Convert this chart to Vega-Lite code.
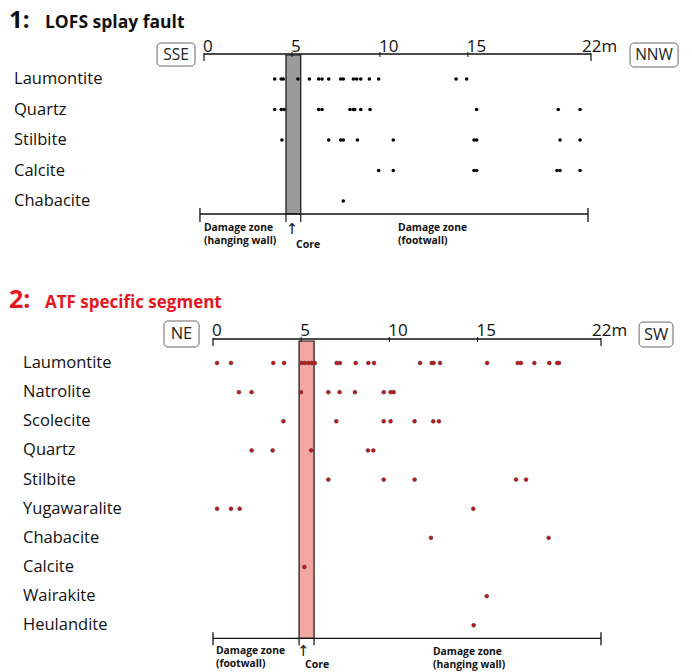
{
  "$schema": "https://vega.github.io/schema/vega-lite/v6.json",
  "width": 692,
  "height": 672,
  "autosize": "none",
  "padding": 0,
  "background": "white",
  "config": {"view": {"stroke": null}, "axis": {"disable": true}, "font": "Open Sans", "text": {"font": "Open Sans"}},
  "datasets": {
    "lofs": [
      {"mineral": "Laumontite", "m": 4.02}, {"mineral": "Laumontite", "m": 4.39}, {"mineral": "Laumontite", "m": 4.51}, {"mineral": "Laumontite", "m": 5.34},
      {"mineral": "Laumontite", "m": 5.99}, {"mineral": "Laumontite", "m": 6.52}, {"mineral": "Laumontite", "m": 6.71}, {"mineral": "Laumontite", "m": 7.09},
      {"mineral": "Laumontite", "m": 7.77}, {"mineral": "Laumontite", "m": 7.92}, {"mineral": "Laumontite", "m": 8.49}, {"mineral": "Laumontite", "m": 8.68},
      {"mineral": "Laumontite", "m": 8.91}, {"mineral": "Laumontite", "m": 9.40}, {"mineral": "Laumontite", "m": 9.93}, {"mineral": "Laumontite", "m": 14.33},
      {"mineral": "Laumontite", "m": 14.93},
      {"mineral": "Quartz", "m": 4.02}, {"mineral": "Quartz", "m": 4.39}, {"mineral": "Quartz", "m": 4.55}, {"mineral": "Quartz", "m": 6.52},
      {"mineral": "Quartz", "m": 6.71}, {"mineral": "Quartz", "m": 8.30}, {"mineral": "Quartz", "m": 8.49}, {"mineral": "Quartz", "m": 8.57},
      {"mineral": "Quartz", "m": 8.91}, {"mineral": "Quartz", "m": 9.44}, {"mineral": "Quartz", "m": 15.50}, {"mineral": "Quartz", "m": 20.14},
      {"mineral": "Quartz", "m": 21.38},
      {"mineral": "Stilbite", "m": 4.43}, {"mineral": "Stilbite", "m": 7.09}, {"mineral": "Stilbite", "m": 7.77}, {"mineral": "Stilbite", "m": 7.92},
      {"mineral": "Stilbite", "m": 8.72}, {"mineral": "Stilbite", "m": 10.76}, {"mineral": "Stilbite", "m": 15.35}, {"mineral": "Stilbite", "m": 15.50},
      {"mineral": "Stilbite", "m": 20.24}, {"mineral": "Stilbite", "m": 21.38},
      {"mineral": "Calcite", "m": 9.93}, {"mineral": "Calcite", "m": 10.76}, {"mineral": "Calcite", "m": 15.35}, {"mineral": "Calcite", "m": 15.50},
      {"mineral": "Calcite", "m": 20.07}, {"mineral": "Calcite", "m": 20.24}, {"mineral": "Calcite", "m": 21.38},
      {"mineral": "Chabacite", "m": 7.92}
    ],
    "atf": [
      {"mineral": "Laumontite", "m": 0.23}, {"mineral": "Laumontite", "m": 1.02}, {"mineral": "Laumontite", "m": 3.42}, {"mineral": "Laumontite", "m": 4.03},
      {"mineral": "Laumontite", "m": 5.01}, {"mineral": "Laumontite", "m": 5.20}, {"mineral": "Laumontite", "m": 5.41}, {"mineral": "Laumontite", "m": 5.60},
      {"mineral": "Laumontite", "m": 5.78}, {"mineral": "Laumontite", "m": 7.01}, {"mineral": "Laumontite", "m": 7.20}, {"mineral": "Laumontite", "m": 8.09},
      {"mineral": "Laumontite", "m": 8.81}, {"mineral": "Laumontite", "m": 9.13}, {"mineral": "Laumontite", "m": 11.74}, {"mineral": "Laumontite", "m": 12.40},
      {"mineral": "Laumontite", "m": 12.51}, {"mineral": "Laumontite", "m": 12.87}, {"mineral": "Laumontite", "m": 15.54}, {"mineral": "Laumontite", "m": 17.28},
      {"mineral": "Laumontite", "m": 17.46}, {"mineral": "Laumontite", "m": 18.22}, {"mineral": "Laumontite", "m": 19.07}, {"mineral": "Laumontite", "m": 19.52},
      {"mineral": "Laumontite", "m": 19.62},
      {"mineral": "Natrolite", "m": 1.47}, {"mineral": "Natrolite", "m": 2.19}, {"mineral": "Natrolite", "m": 4.99}, {"mineral": "Natrolite", "m": 6.54},
      {"mineral": "Natrolite", "m": 7.18}, {"mineral": "Natrolite", "m": 8.05}, {"mineral": "Natrolite", "m": 9.68}, {"mineral": "Natrolite", "m": 10.07},
      {"mineral": "Natrolite", "m": 10.24},
      {"mineral": "Scolecite", "m": 3.99}, {"mineral": "Scolecite", "m": 6.99}, {"mineral": "Scolecite", "m": 9.68}, {"mineral": "Scolecite", "m": 10.07},
      {"mineral": "Scolecite", "m": 11.43}, {"mineral": "Scolecite", "m": 12.49}, {"mineral": "Scolecite", "m": 12.81},
      {"mineral": "Quartz", "m": 2.19}, {"mineral": "Quartz", "m": 3.38}, {"mineral": "Quartz", "m": 5.57}, {"mineral": "Quartz", "m": 8.79},
      {"mineral": "Quartz", "m": 9.09},
      {"mineral": "Stilbite", "m": 6.54}, {"mineral": "Stilbite", "m": 9.68}, {"mineral": "Stilbite", "m": 11.43}, {"mineral": "Stilbite", "m": 17.18},
      {"mineral": "Stilbite", "m": 17.75},
      {"mineral": "Yugawaralite", "m": 0.23}, {"mineral": "Yugawaralite", "m": 1.02}, {"mineral": "Yugawaralite", "m": 1.51}, {"mineral": "Yugawaralite", "m": 14.76},
      {"mineral": "Chabacite", "m": 12.36}, {"mineral": "Chabacite", "m": 19.03},
      {"mineral": "Calcite", "m": 5.18},
      {"mineral": "Wairakite", "m": 15.52},
      {"mineral": "Heulandite", "m": 14.78}
    ],
    "ticks": [{"v": 0, "t": "0"}, {"v": 5, "t": "5"}, {"v": 10, "t": "10"}, {"v": 15, "t": "15"}],
    "midticks": [{"v": 5}, {"v": 10}, {"v": 15}],
    "endticks": [{"v": 0}, {"v": 22}],
    "one": [{}]
  },
  "layer": [
    {
      "layer": [
        {
          "data": {"name": "one"},
          "mark": {"type": "rect", "fill": "#9b9b9b", "stroke": "#111", "strokeWidth": 1.2, "yOffset": -24, "y2Offset": 13},
          "encoding": {
            "x": {"datum": 4.66, "type": "quantitative", "scale": {"domain": [0, 22], "range": [204, 591], "nice": false, "zero": false}},
            "x2": {"datum": 5.5},
            "y": {"datum": "Laumontite", "type": "nominal", "scale": {"type": "point", "domain": ["Laumontite", "Quartz", "Stilbite", "Calcite", "Chabacite"], "range": [79, 201], "padding": 0}},
            "y2": {"datum": "Chabacite"}
          }
        },
        {
          "data": {"name": "one"},
          "mark": {"type": "rule", "color": "#111", "strokeWidth": 1.3, "yOffset": -25},
          "encoding": {
            "x": {"datum": 0, "type": "quantitative", "scale": {"domain": [0, 22], "range": [204, 591], "nice": false, "zero": false}},
            "x2": {"datum": 22},
            "y": {"datum": "Laumontite", "type": "nominal", "scale": {"type": "point", "domain": ["Laumontite", "Quartz", "Stilbite", "Calcite", "Chabacite"], "range": [79, 201], "padding": 0}}
          }
        },
        {
          "data": {"name": "midticks"},
          "mark": {"type": "rule", "color": "#111", "strokeWidth": 1, "yOffset": -27, "y2Offset": -22},
          "encoding": {
            "x": {"field": "v", "type": "quantitative", "scale": {"domain": [0, 22], "range": [204, 591], "nice": false, "zero": false}},
            "y": {"datum": "Laumontite", "type": "nominal", "scale": {"type": "point", "domain": ["Laumontite", "Quartz", "Stilbite", "Calcite", "Chabacite"], "range": [79, 201], "padding": 0}},
            "y2": {"datum": "Laumontite"}
          }
        },
        {
          "data": {"name": "endticks"},
          "mark": {"type": "rule", "color": "#111", "strokeWidth": 1.2, "yOffset": -26, "y2Offset": -18},
          "encoding": {
            "x": {"field": "v", "type": "quantitative", "scale": {"domain": [0, 22], "range": [204, 591], "nice": false, "zero": false}},
            "y": {"datum": "Laumontite", "type": "nominal", "scale": {"type": "point", "domain": ["Laumontite", "Quartz", "Stilbite", "Calcite", "Chabacite"], "range": [79, 201], "padding": 0}},
            "y2": {"datum": "Laumontite"}
          }
        },
        {
          "data": {"name": "ticks"},
          "mark": {"type": "text", "align": "left", "baseline": "alphabetic", "dx": -1, "dy": -27, "fontSize": 17, "color": "#111"},
          "encoding": {
            "x": {"field": "v", "type": "quantitative", "scale": {"domain": [0, 22], "range": [204, 591], "nice": false, "zero": false}},
            "y": {"datum": "Laumontite", "type": "nominal", "scale": {"type": "point", "domain": ["Laumontite", "Quartz", "Stilbite", "Calcite", "Chabacite"], "range": [79, 201], "padding": 0}},
            "text": {"field": "t"}
          }
        },
        {
          "data": {"name": "one"},
          "mark": {"type": "text", "text": "22m", "align": "left", "baseline": "alphabetic", "dx": -9, "dy": -27, "fontSize": 17, "color": "#111"},
          "encoding": {
            "x": {"datum": 22, "type": "quantitative", "scale": {"domain": [0, 22], "range": [204, 591], "nice": false, "zero": false}},
            "y": {"datum": "Laumontite", "type": "nominal", "scale": {"type": "point", "domain": ["Laumontite", "Quartz", "Stilbite", "Calcite", "Chabacite"], "range": [79, 201], "padding": 0}}
          }
        },
        {
          "data": {"name": "one"},
          "mark": {"type": "rect", "fill": "white", "stroke": "#666", "strokeWidth": 1, "cornerRadius": 4, "yOffset": -36, "y2Offset": -13},
          "encoding": {
            "x": {"datum": -2.67, "type": "quantitative", "scale": {"domain": [0, 22], "range": [204, 591], "nice": false, "zero": false}},
            "x2": {"datum": -0.51},
            "y": {"datum": "Laumontite", "type": "nominal", "scale": {"type": "point", "domain": ["Laumontite", "Quartz", "Stilbite", "Calcite", "Chabacite"], "range": [79, 201], "padding": 0}},
            "y2": {"datum": "Laumontite"}
          }
        },
        {
          "data": {"name": "one"},
          "mark": {"type": "text", "text": "SSE", "align": "center", "baseline": "middle", "dy": -24, "fontSize": 15.5, "color": "#222"},
          "encoding": {
            "x": {"datum": -1.59, "type": "quantitative", "scale": {"domain": [0, 22], "range": [204, 591], "nice": false, "zero": false}},
            "y": {"datum": "Laumontite", "type": "nominal", "scale": {"type": "point", "domain": ["Laumontite", "Quartz", "Stilbite", "Calcite", "Chabacite"], "range": [79, 201], "padding": 0}}
          }
        },
        {
          "data": {"name": "one"},
          "mark": {"type": "rect", "fill": "white", "stroke": "#666", "strokeWidth": 1, "cornerRadius": 4, "yOffset": -36, "y2Offset": -12},
          "encoding": {
            "x": {"datum": 24.22, "type": "quantitative", "scale": {"domain": [0, 22], "range": [204, 591], "nice": false, "zero": false}},
            "x2": {"datum": 26.95},
            "y": {"datum": "Laumontite", "type": "nominal", "scale": {"type": "point", "domain": ["Laumontite", "Quartz", "Stilbite", "Calcite", "Chabacite"], "range": [79, 201], "padding": 0}},
            "y2": {"datum": "Laumontite"}
          }
        },
        {
          "data": {"name": "one"},
          "mark": {"type": "text", "text": "NNW", "align": "center", "baseline": "middle", "dy": -24, "fontSize": 15.5, "color": "#222"},
          "encoding": {
            "x": {"datum": 25.58, "type": "quantitative", "scale": {"domain": [0, 22], "range": [204, 591], "nice": false, "zero": false}},
            "y": {"datum": "Laumontite", "type": "nominal", "scale": {"type": "point", "domain": ["Laumontite", "Quartz", "Stilbite", "Calcite", "Chabacite"], "range": [79, 201], "padding": 0}}
          }
        },
        {
          "data": {"name": "one"},
          "mark": {"type": "text", "text": "1:", "align": "left", "baseline": "alphabetic", "dy": -51, "fontSize": 24, "fontWeight": "bold", "color": "#111"},
          "encoding": {
            "x": {"datum": -11.08, "type": "quantitative", "scale": {"domain": [0, 22], "range": [204, 591], "nice": false, "zero": false}},
            "y": {"datum": "Laumontite", "type": "nominal", "scale": {"type": "point", "domain": ["Laumontite", "Quartz", "Stilbite", "Calcite", "Chabacite"], "range": [79, 201], "padding": 0}}
          }
        },
        {
          "data": {"name": "one"},
          "mark": {"type": "text", "text": "LOFS splay fault", "align": "left", "baseline": "alphabetic", "dy": -51, "fontSize": 17.5, "fontWeight": "bold", "color": "#111"},
          "encoding": {
            "x": {"datum": -9.04, "type": "quantitative", "scale": {"domain": [0, 22], "range": [204, 591], "nice": false, "zero": false}},
            "y": {"datum": "Laumontite", "type": "nominal", "scale": {"type": "point", "domain": ["Laumontite", "Quartz", "Stilbite", "Calcite", "Chabacite"], "range": [79, 201], "padding": 0}}
          }
        },
        {
          "data": {"name": "lofs"},
          "transform": [{"aggregate": [{"op": "count", "as": "n"}], "groupby": ["mineral"]}],
          "mark": {"type": "text", "align": "left", "baseline": "middle", "fontSize": 16.5, "color": "#111"},
          "encoding": {
            "x": {"datum": -10.8, "type": "quantitative", "scale": {"domain": [0, 22], "range": [204, 591], "nice": false, "zero": false}},
            "y": {"field": "mineral", "type": "nominal", "scale": {"type": "point", "domain": ["Laumontite", "Quartz", "Stilbite", "Calcite", "Chabacite"], "range": [79, 201], "padding": 0}},
            "text": {"field": "mineral"}
          }
        },
        {
          "data": {"name": "lofs"},
          "mark": {"type": "circle", "size": 13, "color": "#000", "opacity": 1},
          "encoding": {
            "x": {"field": "m", "type": "quantitative", "scale": {"domain": [0, 22], "range": [204, 591], "nice": false, "zero": false}},
            "y": {"field": "mineral", "type": "nominal", "scale": {"type": "point", "domain": ["Laumontite", "Quartz", "Stilbite", "Calcite", "Chabacite"], "range": [79, 201], "padding": 0}}
          }
        },
        {
          "data": {"name": "one"},
          "mark": {"type": "rule", "color": "#111", "strokeWidth": 1.3, "yOffset": 13},
          "encoding": {
            "x": {"datum": -0.23, "type": "quantitative", "scale": {"domain": [0, 22], "range": [204, 591], "nice": false, "zero": false}},
            "x2": {"datum": 21.83},
            "y": {"datum": "Chabacite", "type": "nominal", "scale": {"type": "point", "domain": ["Laumontite", "Quartz", "Stilbite", "Calcite", "Chabacite"], "range": [79, 201], "padding": 0}}
          }
        },
        {
          "data": {"name": "one"},
          "mark": {"type": "rule", "color": "#111", "strokeWidth": 1.3, "yOffset": 7, "y2Offset": 21},
          "encoding": {
            "x": {"datum": -0.23, "type": "quantitative", "scale": {"domain": [0, 22], "range": [204, 591], "nice": false, "zero": false}},
            "y": {"datum": "Chabacite", "type": "nominal", "scale": {"type": "point", "domain": ["Laumontite", "Quartz", "Stilbite", "Calcite", "Chabacite"], "range": [79, 201], "padding": 0}},
            "y2": {"datum": "Chabacite"}
          }
        },
        {
          "data": {"name": "one"},
          "mark": {"type": "rule", "color": "#111", "strokeWidth": 1.3, "yOffset": 7, "y2Offset": 21},
          "encoding": {
            "x": {"datum": 21.83, "type": "quantitative", "scale": {"domain": [0, 22], "range": [204, 591], "nice": false, "zero": false}},
            "y": {"datum": "Chabacite", "type": "nominal", "scale": {"type": "point", "domain": ["Laumontite", "Quartz", "Stilbite", "Calcite", "Chabacite"], "range": [79, 201], "padding": 0}},
            "y2": {"datum": "Chabacite"}
          }
        },
        {
          "data": {"name": "one"},
          "mark": {"type": "rule", "color": "#111", "strokeWidth": 1.2, "yOffset": 13, "y2Offset": 21},
          "encoding": {
            "x": {"datum": 4.66, "type": "quantitative", "scale": {"domain": [0, 22], "range": [204, 591], "nice": false, "zero": false}},
            "y": {"datum": "Chabacite", "type": "nominal", "scale": {"type": "point", "domain": ["Laumontite", "Quartz", "Stilbite", "Calcite", "Chabacite"], "range": [79, 201], "padding": 0}},
            "y2": {"datum": "Chabacite"}
          }
        },
        {
          "data": {"name": "one"},
          "mark": {"type": "rule", "color": "#111", "strokeWidth": 1.2, "yOffset": 13, "y2Offset": 21},
          "encoding": {
            "x": {"datum": 5.5, "type": "quantitative", "scale": {"domain": [0, 22], "range": [204, 591], "nice": false, "zero": false}},
            "y": {"datum": "Chabacite", "type": "nominal", "scale": {"type": "point", "domain": ["Laumontite", "Quartz", "Stilbite", "Calcite", "Chabacite"], "range": [79, 201], "padding": 0}},
            "y2": {"datum": "Chabacite"}
          }
        },
        {
          "data": {"name": "one"},
          "mark": {"type": "text", "text": "Damage zone\n(hanging wall)", "lineBreak": "\n", "lineHeight": 12.5, "align": "left", "baseline": "alphabetic", "dy": 30, "fontSize": 10.3, "fontWeight": "bold", "color": "#111"},
          "encoding": {
            "x": {"datum": 0, "type": "quantitative", "scale": {"domain": [0, 22], "range": [204, 591], "nice": false, "zero": false}},
            "y": {"datum": "Chabacite", "type": "nominal", "scale": {"type": "point", "domain": ["Laumontite", "Quartz", "Stilbite", "Calcite", "Chabacite"], "range": [79, 201], "padding": 0}}
          }
        },
        {
          "data": {"name": "one"},
          "mark": {"type": "text", "text": "Core", "align": "left", "baseline": "alphabetic", "dy": 47, "fontSize": 10.5, "fontWeight": "bold", "color": "#111"},
          "encoding": {
            "x": {"datum": 5.23, "type": "quantitative", "scale": {"domain": [0, 22], "range": [204, 591], "nice": false, "zero": false}},
            "y": {"datum": "Chabacite", "type": "nominal", "scale": {"type": "point", "domain": ["Laumontite", "Quartz", "Stilbite", "Calcite", "Chabacite"], "range": [79, 201], "padding": 0}}
          }
        },
        {
          "data": {"name": "one"},
          "mark": {"type": "text", "text": "↑", "font": "DejaVu Sans", "align": "center", "baseline": "alphabetic", "dy": 33, "fontSize": 15, "color": "#111"},
          "encoding": {
            "x": {"datum": 5.0, "type": "quantitative", "scale": {"domain": [0, 22], "range": [204, 591], "nice": false, "zero": false}},
            "y": {"datum": "Chabacite", "type": "nominal", "scale": {"type": "point", "domain": ["Laumontite", "Quartz", "Stilbite", "Calcite", "Chabacite"], "range": [79, 201], "padding": 0}}
          }
        },
        {
          "data": {"name": "one"},
          "mark": {"type": "text", "text": "Damage zone\n(footwall)", "lineBreak": "\n", "lineHeight": 12.5, "align": "left", "baseline": "alphabetic", "dy": 30, "fontSize": 10.3, "fontWeight": "bold", "color": "#111"},
          "encoding": {
            "x": {"datum": 11.03, "type": "quantitative", "scale": {"domain": [0, 22], "range": [204, 591], "nice": false, "zero": false}},
            "y": {"datum": "Chabacite", "type": "nominal", "scale": {"type": "point", "domain": ["Laumontite", "Quartz", "Stilbite", "Calcite", "Chabacite"], "range": [79, 201], "padding": 0}}
          }
        }
      ]
    },
    {
      "layer": [
        {
          "data": {"name": "one"},
          "mark": {"type": "rect", "fill": "#f3a6a2", "stroke": "#111", "strokeWidth": 1.2, "yOffset": -22, "y2Offset": 13},
          "encoding": {
            "x": {"datum": 4.88, "type": "quantitative", "scale": {"domain": [0, 22], "range": [213, 601], "nice": false, "zero": false}},
            "x2": {"datum": 5.73},
            "y": {"datum": "Laumontite", "type": "nominal", "scale": {"type": "point", "domain": ["Laumontite", "Natrolite", "Scolecite", "Quartz", "Stilbite", "Yugawaralite", "Chabacite", "Calcite", "Wairakite", "Heulandite"], "range": [363, 625.3], "padding": 0}},
            "y2": {"datum": "Heulandite"}
          }
        },
        {
          "data": {"name": "one"},
          "mark": {"type": "rule", "color": "#111", "strokeWidth": 1.3, "yOffset": -24},
          "encoding": {
            "x": {"datum": 0, "type": "quantitative", "scale": {"domain": [0, 22], "range": [213, 601], "nice": false, "zero": false}},
            "x2": {"datum": 22},
            "y": {"datum": "Laumontite", "type": "nominal", "scale": {"type": "point", "domain": ["Laumontite", "Natrolite", "Scolecite", "Quartz", "Stilbite", "Yugawaralite", "Chabacite", "Calcite", "Wairakite", "Heulandite"], "range": [363, 625.3], "padding": 0}}
          }
        },
        {
          "data": {"name": "midticks"},
          "mark": {"type": "rule", "color": "#111", "strokeWidth": 1, "yOffset": -26, "y2Offset": -21},
          "encoding": {
            "x": {"field": "v", "type": "quantitative", "scale": {"domain": [0, 22], "range": [213, 601], "nice": false, "zero": false}},
            "y": {"datum": "Laumontite", "type": "nominal", "scale": {"type": "point", "domain": ["Laumontite", "Natrolite", "Scolecite", "Quartz", "Stilbite", "Yugawaralite", "Chabacite", "Calcite", "Wairakite", "Heulandite"], "range": [363, 625.3], "padding": 0}},
            "y2": {"datum": "Laumontite"}
          }
        },
        {
          "data": {"name": "endticks"},
          "mark": {"type": "rule", "color": "#111", "strokeWidth": 1.2, "yOffset": -25, "y2Offset": -17},
          "encoding": {
            "x": {"field": "v", "type": "quantitative", "scale": {"domain": [0, 22], "range": [213, 601], "nice": false, "zero": false}},
            "y": {"datum": "Laumontite", "type": "nominal", "scale": {"type": "point", "domain": ["Laumontite", "Natrolite", "Scolecite", "Quartz", "Stilbite", "Yugawaralite", "Chabacite", "Calcite", "Wairakite", "Heulandite"], "range": [363, 625.3], "padding": 0}},
            "y2": {"datum": "Laumontite"}
          }
        },
        {
          "data": {"name": "ticks"},
          "mark": {"type": "text", "align": "left", "baseline": "alphabetic", "dx": -1, "dy": -27, "fontSize": 17, "color": "#111"},
          "encoding": {
            "x": {"field": "v", "type": "quantitative", "scale": {"domain": [0, 22], "range": [213, 601], "nice": false, "zero": false}},
            "y": {"datum": "Laumontite", "type": "nominal", "scale": {"type": "point", "domain": ["Laumontite", "Natrolite", "Scolecite", "Quartz", "Stilbite", "Yugawaralite", "Chabacite", "Calcite", "Wairakite", "Heulandite"], "range": [363, 625.3], "padding": 0}},
            "text": {"field": "t"}
          }
        },
        {
          "data": {"name": "one"},
          "mark": {"type": "text", "text": "22m", "align": "left", "baseline": "alphabetic", "dx": -9, "dy": -27, "fontSize": 17, "color": "#111"},
          "encoding": {
            "x": {"datum": 22, "type": "quantitative", "scale": {"domain": [0, 22], "range": [213, 601], "nice": false, "zero": false}},
            "y": {"datum": "Laumontite", "type": "nominal", "scale": {"type": "point", "domain": ["Laumontite", "Natrolite", "Scolecite", "Quartz", "Stilbite", "Yugawaralite", "Chabacite", "Calcite", "Wairakite", "Heulandite"], "range": [363, 625.3], "padding": 0}}
          }
        },
        {
          "data": {"name": "one"},
          "mark": {"type": "rect", "fill": "white", "stroke": "#666", "strokeWidth": 1, "cornerRadius": 4, "yOffset": -42, "y2Offset": -16},
          "encoding": {
            "x": {"datum": -2.78, "type": "quantitative", "scale": {"domain": [0, 22], "range": [213, 601], "nice": false, "zero": false}},
            "x2": {"datum": -0.79},
            "y": {"datum": "Laumontite", "type": "nominal", "scale": {"type": "point", "domain": ["Laumontite", "Natrolite", "Scolecite", "Quartz", "Stilbite", "Yugawaralite", "Chabacite", "Calcite", "Wairakite", "Heulandite"], "range": [363, 625.3], "padding": 0}},
            "y2": {"datum": "Laumontite"}
          }
        },
        {
          "data": {"name": "one"},
          "mark": {"type": "text", "text": "NE", "align": "center", "baseline": "middle", "dy": -29, "fontSize": 16.5, "color": "#222"},
          "encoding": {
            "x": {"datum": -1.79, "type": "quantitative", "scale": {"domain": [0, 22], "range": [213, 601], "nice": false, "zero": false}},
            "y": {"datum": "Laumontite", "type": "nominal", "scale": {"type": "point", "domain": ["Laumontite", "Natrolite", "Scolecite", "Quartz", "Stilbite", "Yugawaralite", "Chabacite", "Calcite", "Wairakite", "Heulandite"], "range": [363, 625.3], "padding": 0}}
          }
        },
        {
          "data": {"name": "one"},
          "mark": {"type": "rect", "fill": "white", "stroke": "#666", "strokeWidth": 1, "cornerRadius": 4, "yOffset": -41, "y2Offset": -16},
          "encoding": {
            "x": {"datum": 24.16, "type": "quantitative", "scale": {"domain": [0, 22], "range": [213, 601], "nice": false, "zero": false}},
            "x2": {"datum": 26.08},
            "y": {"datum": "Laumontite", "type": "nominal", "scale": {"type": "point", "domain": ["Laumontite", "Natrolite", "Scolecite", "Quartz", "Stilbite", "Yugawaralite", "Chabacite", "Calcite", "Wairakite", "Heulandite"], "range": [363, 625.3], "padding": 0}},
            "y2": {"datum": "Laumontite"}
          }
        },
        {
          "data": {"name": "one"},
          "mark": {"type": "text", "text": "SW", "align": "center", "baseline": "middle", "dy": -28, "fontSize": 16.5, "color": "#222"},
          "encoding": {
            "x": {"datum": 25.12, "type": "quantitative", "scale": {"domain": [0, 22], "range": [213, 601], "nice": false, "zero": false}},
            "y": {"datum": "Laumontite", "type": "nominal", "scale": {"type": "point", "domain": ["Laumontite", "Natrolite", "Scolecite", "Quartz", "Stilbite", "Yugawaralite", "Chabacite", "Calcite", "Wairakite", "Heulandite"], "range": [363, 625.3], "padding": 0}}
          }
        },
        {
          "data": {"name": "one"},
          "mark": {"type": "text", "text": "2:", "align": "left", "baseline": "alphabetic", "dy": -55, "fontSize": 25, "fontWeight": "bold", "color": "#e3171e"},
          "encoding": {
            "x": {"datum": -11.57, "type": "quantitative", "scale": {"domain": [0, 22], "range": [213, 601], "nice": false, "zero": false}},
            "y": {"datum": "Laumontite", "type": "nominal", "scale": {"type": "point", "domain": ["Laumontite", "Natrolite", "Scolecite", "Quartz", "Stilbite", "Yugawaralite", "Chabacite", "Calcite", "Wairakite", "Heulandite"], "range": [363, 625.3], "padding": 0}}
          }
        },
        {
          "data": {"name": "one"},
          "mark": {"type": "text", "text": "ATF specific segment", "align": "left", "baseline": "alphabetic", "dy": -55, "fontSize": 17, "fontWeight": "bold", "color": "#e3171e"},
          "encoding": {
            "x": {"datum": -9.53, "type": "quantitative", "scale": {"domain": [0, 22], "range": [213, 601], "nice": false, "zero": false}},
            "y": {"datum": "Laumontite", "type": "nominal", "scale": {"type": "point", "domain": ["Laumontite", "Natrolite", "Scolecite", "Quartz", "Stilbite", "Yugawaralite", "Chabacite", "Calcite", "Wairakite", "Heulandite"], "range": [363, 625.3], "padding": 0}}
          }
        },
        {
          "data": {"name": "atf"},
          "transform": [{"aggregate": [{"op": "count", "as": "n"}], "groupby": ["mineral"]}],
          "mark": {"type": "text", "align": "left", "baseline": "middle", "fontSize": 16.5, "color": "#111"},
          "encoding": {
            "x": {"datum": -10.77, "type": "quantitative", "scale": {"domain": [0, 22], "range": [213, 601], "nice": false, "zero": false}},
            "y": {"field": "mineral", "type": "nominal", "scale": {"type": "point", "domain": ["Laumontite", "Natrolite", "Scolecite", "Quartz", "Stilbite", "Yugawaralite", "Chabacite", "Calcite", "Wairakite", "Heulandite"], "range": [363, 625.3], "padding": 0}},
            "text": {"field": "mineral"}
          }
        },
        {
          "data": {"name": "atf"},
          "mark": {"type": "circle", "size": 15, "fill": "#d40f14", "stroke": "#444", "strokeWidth": 0.6, "opacity": 1},
          "encoding": {
            "x": {"field": "m", "type": "quantitative", "scale": {"domain": [0, 22], "range": [213, 601], "nice": false, "zero": false}},
            "y": {"field": "mineral", "type": "nominal", "scale": {"type": "point", "domain": ["Laumontite", "Natrolite", "Scolecite", "Quartz", "Stilbite", "Yugawaralite", "Chabacite", "Calcite", "Wairakite", "Heulandite"], "range": [363, 625.3], "padding": 0}}
          }
        },
        {
          "data": {"name": "one"},
          "mark": {"type": "rule", "color": "#111", "strokeWidth": 1.3, "yOffset": 13},
          "encoding": {
            "x": {"datum": 0, "type": "quantitative", "scale": {"domain": [0, 22], "range": [213, 601], "nice": false, "zero": false}},
            "x2": {"datum": 22},
            "y": {"datum": "Heulandite", "type": "nominal", "scale": {"type": "point", "domain": ["Laumontite", "Natrolite", "Scolecite", "Quartz", "Stilbite", "Yugawaralite", "Chabacite", "Calcite", "Wairakite", "Heulandite"], "range": [363, 625.3], "padding": 0}}
          }
        },
        {
          "data": {"name": "endticks"},
          "mark": {"type": "rule", "color": "#111", "strokeWidth": 1.3, "yOffset": 7, "y2Offset": 20},
          "encoding": {
            "x": {"field": "v", "type": "quantitative", "scale": {"domain": [0, 22], "range": [213, 601], "nice": false, "zero": false}},
            "y": {"datum": "Heulandite", "type": "nominal", "scale": {"type": "point", "domain": ["Laumontite", "Natrolite", "Scolecite", "Quartz", "Stilbite", "Yugawaralite", "Chabacite", "Calcite", "Wairakite", "Heulandite"], "range": [363, 625.3], "padding": 0}},
            "y2": {"datum": "Heulandite"}
          }
        },
        {
          "data": {"name": "one"},
          "mark": {"type": "rule", "color": "#111", "strokeWidth": 1.2, "yOffset": 13, "y2Offset": 20},
          "encoding": {
            "x": {"datum": 4.88, "type": "quantitative", "scale": {"domain": [0, 22], "range": [213, 601], "nice": false, "zero": false}},
            "y": {"datum": "Heulandite", "type": "nominal", "scale": {"type": "point", "domain": ["Laumontite", "Natrolite", "Scolecite", "Quartz", "Stilbite", "Yugawaralite", "Chabacite", "Calcite", "Wairakite", "Heulandite"], "range": [363, 625.3], "padding": 0}},
            "y2": {"datum": "Heulandite"}
          }
        },
        {
          "data": {"name": "one"},
          "mark": {"type": "rule", "color": "#111", "strokeWidth": 1.2, "yOffset": 13, "y2Offset": 20},
          "encoding": {
            "x": {"datum": 5.73, "type": "quantitative", "scale": {"domain": [0, 22], "range": [213, 601], "nice": false, "zero": false}},
            "y": {"datum": "Heulandite", "type": "nominal", "scale": {"type": "point", "domain": ["Laumontite", "Natrolite", "Scolecite", "Quartz", "Stilbite", "Yugawaralite", "Chabacite", "Calcite", "Wairakite", "Heulandite"], "range": [363, 625.3], "padding": 0}},
            "y2": {"datum": "Heulandite"}
          }
        },
        {
          "data": {"name": "one"},
          "mark": {"type": "text", "text": "Damage zone\n(footwall)", "lineBreak": "\n", "lineHeight": 12.5, "align": "left", "baseline": "alphabetic", "dy": 29, "fontSize": 10.3, "fontWeight": "bold", "color": "#111"},
          "encoding": {
            "x": {"datum": 0.17, "type": "quantitative", "scale": {"domain": [0, 22], "range": [213, 601], "nice": false, "zero": false}},
            "y": {"datum": "Heulandite", "type": "nominal", "scale": {"type": "point", "domain": ["Laumontite", "Natrolite", "Scolecite", "Quartz", "Stilbite", "Yugawaralite", "Chabacite", "Calcite", "Wairakite", "Heulandite"], "range": [363, 625.3], "padding": 0}}
          }
        },
        {
          "data": {"name": "one"},
          "mark": {"type": "text", "text": "Core", "align": "left", "baseline": "alphabetic", "dy": 42.5, "fontSize": 10.5, "fontWeight": "bold", "color": "#111"},
          "encoding": {
            "x": {"datum": 5.22, "type": "quantitative", "scale": {"domain": [0, 22], "range": [213, 601], "nice": false, "zero": false}},
            "y": {"datum": "Heulandite", "type": "nominal", "scale": {"type": "point", "domain": ["Laumontite", "Natrolite", "Scolecite", "Quartz", "Stilbite", "Yugawaralite", "Chabacite", "Calcite", "Wairakite", "Heulandite"], "range": [363, 625.3], "padding": 0}}
          }
        },
        {
          "data": {"name": "one"},
          "mark": {"type": "text", "text": "↑", "font": "DejaVu Sans", "align": "center", "baseline": "alphabetic", "dy": 31, "fontSize": 15, "color": "#111"},
          "encoding": {
            "x": {"datum": 5.12, "type": "quantitative", "scale": {"domain": [0, 22], "range": [213, 601], "nice": false, "zero": false}},
            "y": {"datum": "Heulandite", "type": "nominal", "scale": {"type": "point", "domain": ["Laumontite", "Natrolite", "Scolecite", "Quartz", "Stilbite", "Yugawaralite", "Chabacite", "Calcite", "Wairakite", "Heulandite"], "range": [363, 625.3], "padding": 0}}
          }
        },
        {
          "data": {"name": "one"},
          "mark": {"type": "text", "text": "Damage zone\n(hanging wall)", "lineBreak": "\n", "lineHeight": 12.5, "align": "left", "baseline": "alphabetic", "dy": 30, "fontSize": 10.3, "fontWeight": "bold", "color": "#111"},
          "encoding": {
            "x": {"datum": 12.47, "type": "quantitative", "scale": {"domain": [0, 22], "range": [213, 601], "nice": false, "zero": false}},
            "y": {"datum": "Heulandite", "type": "nominal", "scale": {"type": "point", "domain": ["Laumontite", "Natrolite", "Scolecite", "Quartz", "Stilbite", "Yugawaralite", "Chabacite", "Calcite", "Wairakite", "Heulandite"], "range": [363, 625.3], "padding": 0}}
          }
        }
      ]
    }
  ],
  "resolve": {"scale": {"x": "independent", "y": "independent"}}
}
